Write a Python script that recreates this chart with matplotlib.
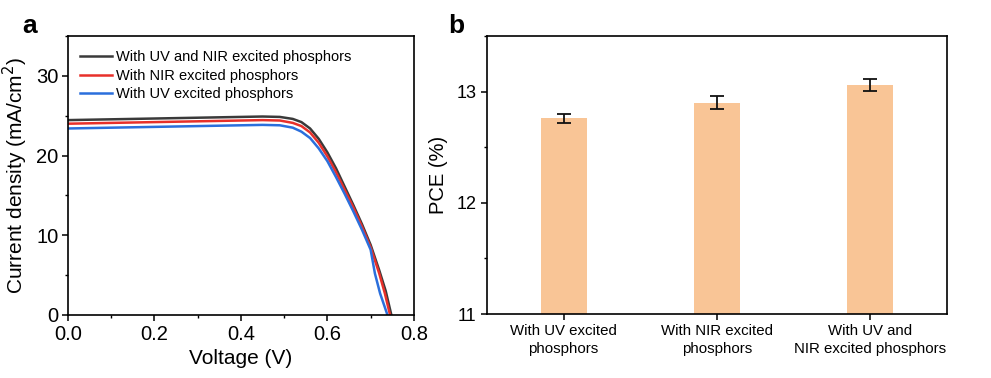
import matplotlib
matplotlib.use("Agg")
import matplotlib.pyplot as plt
from matplotlib.ticker import MultipleLocator

plt.rcParams['font.family'] = ['Liberation Sans', 'DejaVu Sans']

# ---- Panel a data (J-V curves) ----
v_both = [0, 0.1, 0.2, 0.3, 0.4, 0.45, 0.49, 0.52, 0.54, 0.56, 0.58, 0.60, 0.62, 0.64, 0.66, 0.68, 0.70, 0.72, 0.735, 0.748]
j_both = [24.45, 24.55, 24.65, 24.75, 24.85, 24.9, 24.85, 24.6, 24.2, 23.4, 22.1, 20.4, 18.4, 16.1, 13.8, 11.4, 8.8, 5.6, 3.0, 0.0]
v_nir = [0, 0.1, 0.2, 0.3, 0.4, 0.45, 0.49, 0.52, 0.54, 0.56, 0.58, 0.60, 0.62, 0.64, 0.66, 0.68, 0.70, 0.72, 0.733, 0.745]
j_nir = [24.0, 24.1, 24.2, 24.3, 24.4, 24.45, 24.4, 24.1, 23.7, 22.9, 21.6, 19.9, 17.9, 15.7, 13.5, 11.1, 8.5, 5.2, 2.7, 0.0]
v_uv = [0, 0.1, 0.2, 0.3, 0.4, 0.45, 0.49, 0.52, 0.54, 0.56, 0.58, 0.60, 0.62, 0.64, 0.66, 0.68, 0.70, 0.71, 0.722, 0.739]
j_uv = [23.4, 23.5, 23.6, 23.7, 23.8, 23.85, 23.8, 23.5, 23.0, 22.2, 20.9, 19.3, 17.3, 15.2, 13.0, 10.7, 8.2, 5.2, 2.7, 0.0]
labels_a = ["With UV and NIR excited phosphors", "With NIR excited phosphors", "With UV excited phosphors"]

# ---- Panel b data (PCE) ----
categories = ["With UV excited\nphosphors", "With NIR excited\nphosphors", "With UV and\nNIR excited phosphors"]
pce = [12.76, 12.90, 13.06]
pce_err = [0.04, 0.06, 0.055]

fig = plt.figure(figsize=(9.91, 3.78), dpi=100)

axa = fig.add_axes([0.0686, 0.1667, 0.349, 0.738])
axa.plot(v_both, j_both, color='#3a3a3a', lw=1.8, label=labels_a[0])
axa.plot(v_nir, j_nir, color='#e8302a', lw=1.8, label=labels_a[1])
axa.plot(v_uv, j_uv, color='#2b6fdc', lw=1.8, label=labels_a[2])
axa.set_xlim(0, 0.8)
axa.set_ylim(0, 35)
axa.xaxis.set_major_locator(MultipleLocator(0.2))
axa.xaxis.set_minor_locator(MultipleLocator(0.1))
axa.yaxis.set_major_locator(MultipleLocator(10))
axa.yaxis.set_minor_locator(MultipleLocator(5))
axa.tick_params(which='major', direction='out', length=4, width=1.1, labelsize=14.5, pad=3)
axa.tick_params(which='minor', direction='out', length=2.5, width=1.0)
axa.set_xticks([0, 0.2, 0.4, 0.6, 0.8])
axa.set_xticklabels(["0.0", "0.2", "0.4", "0.6", "0.8"])
axa.set_xlabel("Voltage (V)", fontsize=15, labelpad=4)
axa.set_ylabel("Current density (mA/cm$^2$)", fontsize=15, labelpad=4)
for s in axa.spines.values():
    s.set_linewidth(1.2)
leg = axa.legend(loc='upper left', frameon=False, fontsize=10.5, handlelength=2.2,
                 handletextpad=0.3, labelspacing=0.3, borderaxespad=0.4,
                 bbox_to_anchor=(0.0, 0.99))
fig.text(0.022, 0.913, "a", fontsize=19, fontweight='bold')

axb = fig.add_axes([0.4914, 0.1693, 0.4642, 0.7354])
xpos = [1, 2, 3]
axb.bar(xpos, pce, width=0.3, color='#f9c596', zorder=2)
axb.errorbar(xpos, pce, yerr=pce_err, fmt='none', ecolor='#111111', elinewidth=1.3,
             capsize=4.7, capthick=1.3, zorder=3)
axb.set_xlim(0.5, 3.5)
axb.set_ylim(11, 13.5)
axb.yaxis.set_major_locator(MultipleLocator(1))
axb.yaxis.set_minor_locator(MultipleLocator(0.5))
axb.set_xticks(xpos)
axb.set_xticklabels(categories, fontsize=10.8, linespacing=1.3)
axb.tick_params(which='major', direction='out', length=4, width=1.1, labelsize=13)
axb.tick_params(axis='x', labelsize=10.8)
axb.tick_params(which='minor', direction='out', length=2.5, width=1.0)
axb.set_ylabel("PCE (%)", fontsize=14.5, labelpad=6)
for s in axb.spines.values():
    s.set_linewidth(1.2)
fig.text(0.452, 0.913, "b", fontsize=19, fontweight='bold')

fig.savefig("out.png", dpi=100)
